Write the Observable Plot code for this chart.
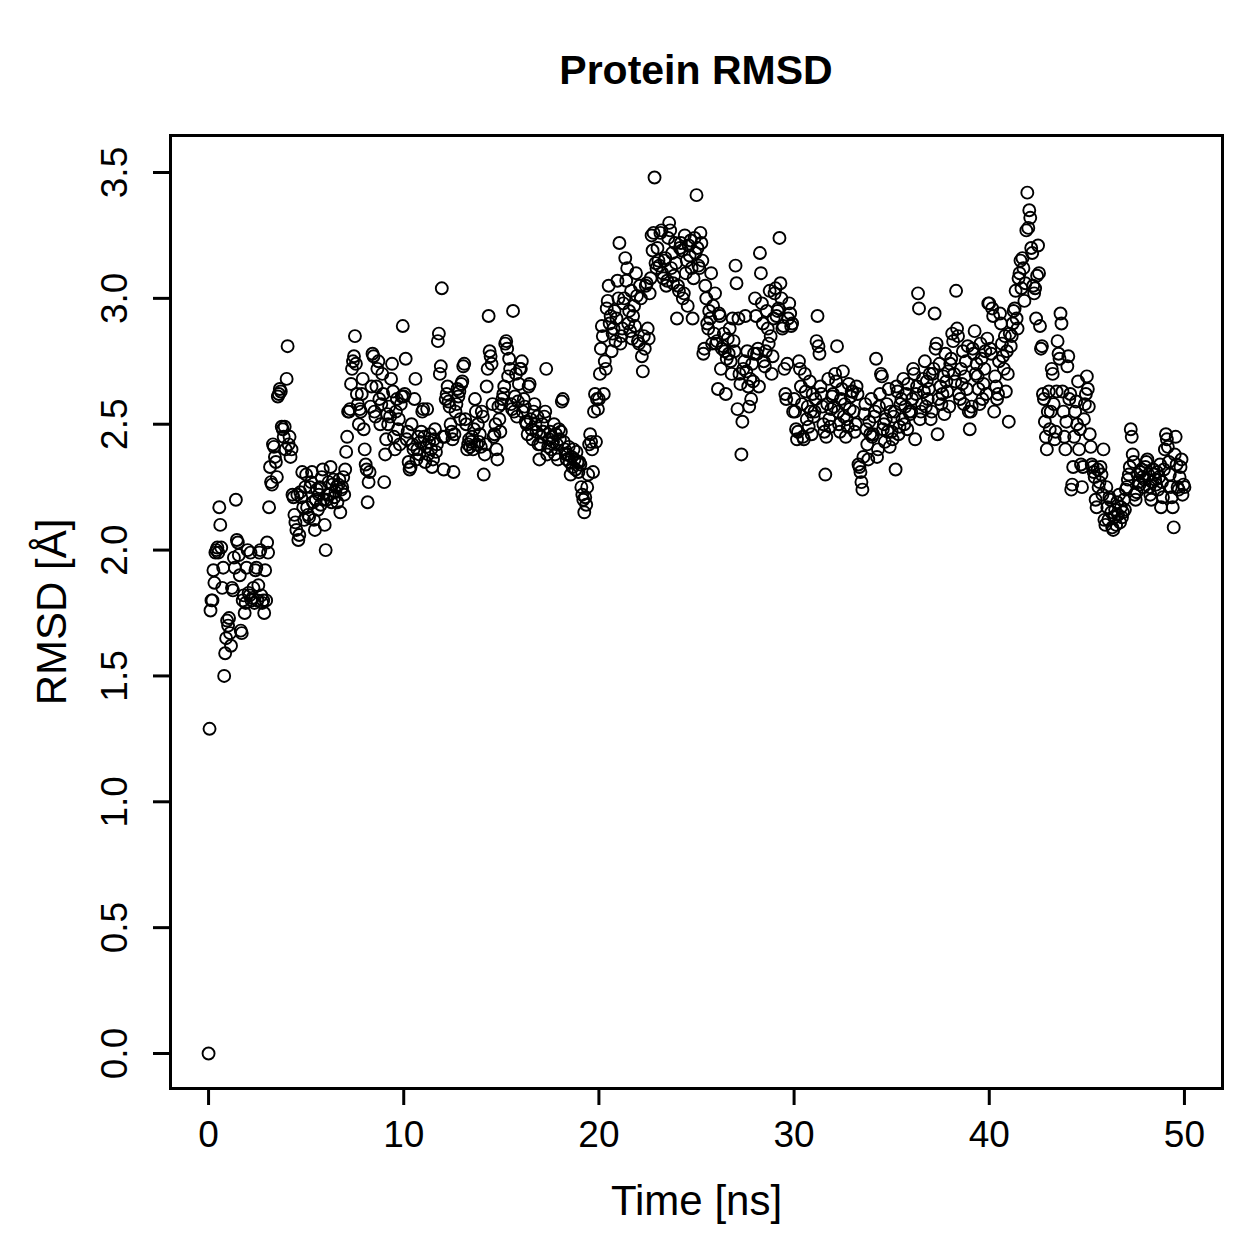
<!DOCTYPE html>
<html>
<head>
<meta charset="utf-8">
<script src="https://cdn.jsdelivr.net/npm/d3@7"></script>
<script src="https://cdn.jsdelivr.net/npm/@observablehq/plot@0.6"></script>
<style>
  html, body { margin: 0; padding: 0; background: #fff; }
  #wrap { position: relative; width: 1259px; height: 1259px; font-family: "Liberation Sans", Arial, sans-serif; }
  #title { position: absolute; left: 0; top: 50px; width: 1392px; text-align: center; font-weight: bold; font-size: 41px; line-height: 40px; color: #000; }
  #chart { position: absolute; left: 0; top: 120px; }
</style>
</head>
<body>
<div id="wrap">
  <div id="title">Protein RMSD</div>
  <div id="chart"></div>
</div>
<script>
// Sampling step of the trajectory (ns)
const timeStep = 0.05;

// RMSD values (Å), 20 frames per ns
const rmsd = [
  // 0 ns
  0.00, 1.29, 1.76, 1.80, 1.80, 1.92, 1.87, 1.99, 2.00, 2.01, 1.99, 2.17, 2.10, 2.01, 1.85, 1.93, 1.50, 1.59, 1.65, 1.72,
  // 1 ns
  1.70, 1.73, 1.67, 1.62, 1.85, 1.84, 1.97, 1.93, 2.20, 2.04, 2.03, 1.98, 1.90, 1.68, 1.67, 1.80, 1.82, 1.75, 1.79, 1.93,
  // 2 ns
  2.00, 1.83, 1.82, 1.99, 1.80, 1.81, 1.85, 1.79, 1.92, 1.93, 1.80, 1.86, 1.99, 2.00, 1.82, 1.79, 1.80, 1.75, 1.92, 1.80,
  // 3 ns
  2.03, 1.99, 2.17, 2.33, 2.27, 2.26, 2.42, 2.41, 2.37, 2.35, 2.29, 2.61, 2.62, 2.64, 2.63, 2.49, 2.48, 2.45, 2.49, 2.40,
  // 4 ns
  2.68, 2.81, 2.42, 2.45, 2.37, 2.40, 2.22, 2.21, 2.14, 2.11, 2.08, 2.22, 2.04, 2.06, 2.23, 2.21, 2.31, 2.17, 2.12, 2.25,
  // 5 ns
  2.30, 2.17, 2.14, 2.13, 2.25, 2.27, 2.31, 2.19, 2.12, 2.08, 2.20, 2.24, 2.16, 2.22, 2.25, 2.18, 2.29, 2.32, 2.20, 2.10,
  // 6 ns
  2.00, 2.20, 2.22, 2.27, 2.22, 2.33, 2.19, 2.26, 2.28, 2.21, 2.23, 2.25, 2.19, 2.26, 2.28, 2.15, 2.24, 2.25, 2.29, 2.22,
  // 7 ns
  2.32, 2.39, 2.45, 2.55, 2.55, 2.56, 2.66, 2.72, 2.75, 2.77, 2.85, 2.74, 2.62, 2.58, 2.50, 2.56, 2.55, 2.62, 2.68, 2.48,
  // 8 ns
  2.40, 2.34, 2.32, 2.19, 2.27, 2.31, 2.57, 2.65, 2.78, 2.77, 2.55, 2.53, 2.65, 2.72, 2.75, 2.60, 2.50, 2.58, 2.70, 2.62,
  // 9 ns
  2.27, 2.38, 2.44, 2.54, 2.50, 2.57, 2.53, 2.68, 2.74, 2.63, 2.45, 2.40, 2.55, 2.60, 2.48, 2.52, 2.42, 2.58, 2.61, 2.89,
  // 10 ns
  2.61, 2.62, 2.76, 2.44, 2.47, 2.35, 2.32, 2.33, 2.50, 2.42, 2.40, 2.60, 2.68, 2.36, 2.40, 2.45, 2.38, 2.43, 2.47, 2.55,
  // 11 ns
  2.56, 2.45, 2.35, 2.41, 2.56, 2.38, 2.43, 2.46, 2.40, 2.33, 2.36, 2.44, 2.48, 2.39, 2.42, 2.83, 2.86, 2.70, 2.73, 3.04,
  // 12 ns
  2.45, 2.32, 2.45, 2.60, 2.62, 2.65, 2.59, 2.57, 2.50, 2.47, 2.44, 2.31, 2.46, 2.55, 2.58, 2.64, 2.61, 2.63, 2.52, 2.66,
  // 13 ns
  2.67, 2.73, 2.74, 2.52, 2.50, 2.40, 2.42, 2.44, 2.41, 2.43, 2.45, 2.40, 2.48, 2.60, 2.55, 2.42, 2.50, 2.43, 2.46, 2.41,
  // 14 ns
  2.55, 2.53, 2.30, 2.38, 2.42, 2.65, 2.72, 2.93, 2.79, 2.77, 2.74, 2.58, 2.45, 2.46, 2.50, 2.40, 2.36, 2.57, 2.52, 2.47,
  // 15 ns
  2.58, 2.60, 2.62, 2.65, 2.82, 2.83, 2.80, 2.69, 2.76, 2.72, 2.58, 2.56, 2.95, 2.55, 2.61, 2.70, 2.53, 2.59, 2.66, 2.72,
  // 16 ns
  2.72, 2.75, 2.55, 2.60, 2.57, 2.51, 2.50, 2.46, 2.65, 2.66, 2.52, 2.48, 2.44, 2.55, 2.58, 2.50, 2.47, 2.53, 2.42, 2.36,
  // 17 ns
  2.42, 2.45, 2.50, 2.47, 2.53, 2.55, 2.72, 2.38, 2.41, 2.44, 2.47, 2.40, 2.45, 2.43, 2.50, 2.38, 2.46, 2.42, 2.36, 2.48,
  // 18 ns
  2.44, 2.47, 2.59, 2.60, 2.43, 2.40, 2.38, 2.36, 2.38, 2.41, 2.35, 2.30, 2.37, 2.33, 2.40, 2.36, 2.32, 2.39, 2.35, 2.31,
  // 19 ns
  2.35, 2.34, 2.25, 2.22, 2.20, 2.15, 2.21, 2.18, 2.25, 2.30, 2.42, 2.46, 2.43, 2.40, 2.31, 2.55, 2.62, 2.43, 2.60, 2.56,
  // 20 ns
  2.60, 2.70, 2.80, 2.89, 2.85, 2.62, 2.75, 2.72, 2.96, 2.99, 3.05, 2.90, 2.93, 2.79, 2.86, 2.88, 2.95, 2.83, 2.92, 3.07,
  // 21 ns
  3.00, 3.22, 2.82, 2.85, 2.88, 2.98, 3.00, 3.16, 3.07, 3.12, 2.90, 2.95, 2.87, 3.03, 2.84, 2.93, 2.97, 2.89, 3.10, 3.01,
  // 22 ns
  2.83, 2.82, 3.05, 3.00, 2.77, 2.71, 2.85, 2.80, 3.05, 3.06, 2.88, 2.84, 3.02, 3.08, 3.25, 3.19, 3.26, 3.48, 3.14, 3.12,
  // 23 ns
  3.20, 3.15, 3.13, 3.26, 3.27, 3.10, 3.08, 3.15, 3.16, 3.05, 3.07, 3.24, 3.30, 3.27, 3.12, 3.18, 3.06, 3.09, 3.22, 3.14,
  // 24 ns
  2.92, 3.05, 3.03, 3.20, 3.22, 3.19, 3.00, 3.02, 3.25, 3.10, 3.15, 2.97, 3.21, 3.17, 3.23, 3.12, 2.92, 3.08, 3.24, 3.18,
  // 25 ns
  3.41, 3.20, 3.13, 3.12, 3.26, 3.22, 3.15, 2.78, 2.80, 3.05, 3.00, 2.90, 2.88, 2.95, 2.92, 3.10, 2.82, 2.97, 2.86, 3.02,
  // 26 ns
  2.82, 2.83, 2.64, 2.94, 2.93, 2.72, 2.80, 2.81, 2.86, 2.79, 2.62, 2.76, 2.84, 2.78, 2.88, 2.75, 2.70, 2.92, 2.83, 2.79,
  // 27 ns
  3.13, 3.06, 2.56, 2.92, 2.70, 2.66, 2.38, 2.51, 2.72, 2.75, 2.93, 2.71, 2.79, 2.65, 2.57, 2.68, 2.60, 2.74, 2.67, 2.78,
  // 28 ns
  3.00, 2.93, 2.78, 2.80, 2.65, 3.18, 3.10, 2.98, 2.90, 2.75, 2.73, 2.79, 2.95, 2.88, 2.82, 3.03, 2.85, 2.70, 2.77, 2.92,
  // 29 ns
  3.02, 3.04, 2.93, 2.95, 2.96, 3.24, 3.06, 3.00, 2.88, 2.89, 2.72, 2.62, 2.60, 2.74, 2.92, 2.98, 2.94, 2.89, 2.90, 2.55,
  // 30 ns
  2.60, 2.55, 2.48, 2.44, 2.47, 2.75, 2.72, 2.65, 2.58, 2.45, 2.44, 2.70, 2.63, 2.52, 2.57, 2.49, 2.67, 2.55, 2.46, 2.62,
  // 31 ns
  2.53, 2.55, 2.60, 2.83, 2.93, 2.81, 2.78, 2.65, 2.62, 2.57, 2.50, 2.47, 2.30, 2.45, 2.58, 2.68, 2.52, 2.49, 2.56, 2.61,
  // 32 ns
  2.62, 2.57, 2.70, 2.67, 2.81, 2.55, 2.50, 2.47, 2.60, 2.64, 2.71, 2.53, 2.58, 2.45, 2.52, 2.49, 2.66, 2.56, 2.61, 2.63,
  // 33 ns
  2.63, 2.55, 2.47, 2.50, 2.65, 2.62, 2.34, 2.33, 2.31, 2.27, 2.24, 2.37, 2.54, 2.58, 2.48, 2.42, 2.36, 2.51, 2.46, 2.60,
  // 34 ns
  2.45, 2.46, 2.53, 2.55, 2.76, 2.37, 2.40, 2.57, 2.62, 2.70, 2.69, 2.48, 2.50, 2.43, 2.52, 2.58, 2.47, 2.64, 2.41, 2.55,
  // 35 ns
  2.47, 2.44, 2.53, 2.55, 2.32, 2.65, 2.63, 2.46, 2.49, 2.58, 2.60, 2.52, 2.68, 2.50, 2.57, 2.62, 2.48, 2.66, 2.55, 2.54,
  // 36 ns
  2.55, 2.60, 2.72, 2.70, 2.44, 2.62, 2.65, 3.02, 2.96, 2.52, 2.55, 2.58, 2.68, 2.63, 2.75, 2.57, 2.67, 2.60, 2.64, 2.70,
  // 37 ns
  2.52, 2.55, 2.70, 2.72, 2.94, 2.80, 2.82, 2.46, 2.60, 2.74, 2.65, 2.58, 2.62, 2.69, 2.54, 2.78, 2.67, 2.63, 2.71, 2.57,
  // 38 ns
  2.74, 2.76, 2.86, 2.83, 2.70, 2.67, 3.03, 2.88, 2.85, 2.62, 2.60, 2.72, 2.66, 2.79, 2.58, 2.69, 2.75, 2.64, 2.81, 2.55,
  // 39 ns
  2.48, 2.55, 2.57, 2.80, 2.78, 2.87, 2.70, 2.74, 2.69, 2.64, 2.58, 2.82, 2.76, 2.60, 2.66, 2.72, 2.79, 2.62, 2.84, 2.98,
  // 40 ns
  2.98, 2.80, 2.78, 2.96, 2.93, 2.55, 2.69, 2.65, 2.60, 2.62, 2.75, 2.94, 2.90, 2.82, 2.77, 2.72, 2.85, 2.63, 2.79, 2.70,
  // 41 ns
  2.51, 2.86, 2.81, 2.85, 2.90, 2.95, 2.96, 3.03, 2.92, 2.88, 3.08, 3.10, 3.15, 3.04, 3.16, 3.12, 2.99, 3.06, 3.27, 3.42,
  // 42 ns
  3.28, 3.35, 3.32, 3.20, 3.18, 3.05, 3.02, 3.04, 2.92, 3.09, 3.21, 3.10, 2.89, 2.80, 2.81, 2.62, 2.60, 2.51, 2.45, 2.40,
  // 43 ns
  2.55, 2.63, 2.48, 2.55, 2.72, 2.70, 2.58, 2.44, 2.47, 2.63, 2.83, 2.78, 2.76, 2.94, 2.90, 2.63, 2.55, 2.45, 2.40, 2.51,
  // 44 ns
  2.73, 2.77, 2.60, 2.62, 2.24, 2.26, 2.33, 2.45, 2.55, 2.59, 2.50, 2.67, 2.40, 2.48, 2.34, 2.25, 2.33, 2.52, 2.58, 2.62,
  // 45 ns
  2.69, 2.64, 2.57, 2.46, 2.41, 2.34, 2.33, 2.31, 2.29, 2.20, 2.17, 2.32, 2.25, 2.27, 2.33, 2.30, 2.22, 2.40, 2.12, 2.10,
  // 46 ns
  2.25, 2.17, 2.12, 2.21, 2.20, 2.15, 2.09, 2.08, 2.13, 2.16, 2.10, 2.19, 2.14, 2.22, 2.11, 2.17, 2.13, 2.15, 2.20, 2.16,
  // 47 ns
  2.24, 2.25, 2.28, 2.30, 2.33, 2.48, 2.45, 2.38, 2.35, 2.22, 2.20, 2.23, 2.30, 2.27, 2.26, 2.31, 2.32, 2.29, 2.25, 2.28,
  // 48 ns
  2.33, 2.35, 2.36, 2.30, 2.25, 2.22, 2.20, 2.27, 2.32, 2.30, 2.28, 2.26, 2.31, 2.24, 2.29, 2.34, 2.17, 2.27, 2.21, 2.32,
  // 49 ns
  2.40, 2.46, 2.44, 2.41, 2.35, 2.30, 2.25, 2.21, 2.17, 2.09, 2.38, 2.45, 2.34, 2.25, 2.24, 2.29, 2.33, 2.36, 2.22, 2.26,
  // 50 ns
  2.25
];

// Axis ticks and labels
const xTicks = [0, 10, 20, 30, 40, 50];
const yTicks = [0.0, 0.5, 1.0, 1.5, 2.0, 2.5, 3.0, 3.5];
const titleText = "Protein RMSD";
const xLabel = "Time [ns]";
const yLabel = "RMSD [Å]";

document.getElementById("title").textContent = titleText;

const data = rmsd.map((v, i) => ({ time: +(i * timeStep).toFixed(2), rmsd: v }));

const chart = Plot.plot({
  width: 1259,
  height: 1139,
  marginTop: 15,
  marginBottom: 171,
  marginLeft: 170,
  marginRight: 37,
  style: { fontFamily: "'Liberation Sans', Arial, sans-serif", background: "white", color: "black" },
  x: { domain: [-1.95, 51.95] },
  y: { domain: [-0.139, 3.647] },
  marks: [
    Plot.dot(data, { x: "time", y: "rmsd", r: 6, stroke: "black", strokeWidth: 1.9, fill: "none" }),
    Plot.frame({ stroke: "black", strokeWidth: 3 }),
    Plot.axisX(xTicks, { tickSize: 17, strokeWidth: 3, tickPadding: 15, fontSize: 37, label: null, tickFormat: d => String(d) }),
    Plot.axisY(yTicks, { tickSize: 17, strokeWidth: 3, tickFormat: () => "", label: null }),
    Plot.text(yTicks, { frameAnchor: "left", y: d => d, text: d => d.toFixed(1), rotate: -90, textAnchor: "middle", lineAnchor: "middle", dx: -55, fontSize: 37 }),
    Plot.text([xLabel], { frameAnchor: "bottom", text: d => d, textAnchor: "middle", lineAnchor: "middle", dy: 113, fontSize: 42 }),
    Plot.text([yLabel], { frameAnchor: "left", text: d => d, dx: -118, rotate: -90, textAnchor: "middle", lineAnchor: "middle", fontSize: 42 })
  ]
});
document.getElementById("chart").appendChild(chart);
</script>
</body>
</html>
